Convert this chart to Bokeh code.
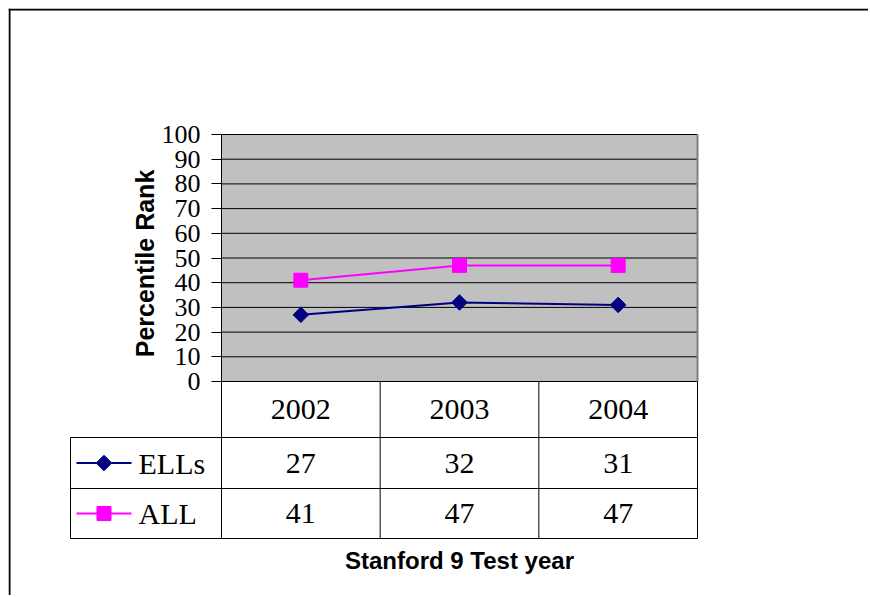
import math
from bokeh.plotting import figure
from bokeh.models import Range1d, FixedTicker, LinearAxis
from bokeh.core.properties import value
from bokeh.embed import file_html
from bokeh.resources import INLINE

# ---- data ----
years = ["2002", "2003", "2004"]
ells = [27, 32, 31]
all_students = [41, 47, 47]
series_names = ["ELLs", "ALL"]
y_ticks = [0, 10, 20, 30, 40, 50, 60, 70, 80, 90, 100]

NAVY = "#000080"
MAGENTA = "#FF00FF"
SERIF = "Liberation Serif"
SANS = "Liberation Sans"

# ---- layout constants (page pixels) ----
W, H = 860, 587
ORG_X, ORG_Y = 8, 8                      # canvas origin on the page
PLOT_L, PLOT_R = 221, 697                # plot area left/right
PLOT_T, PLOT_B = 134, 381                # plot area top/bottom (value 100 / 0)
U = (PLOT_R - PLOT_L) / len(years)       # px per category
V = (PLOT_B - PLOT_T) / 100.0            # px per value unit

def px(page_x):
    return (page_x - PLOT_L) / U

def py(page_y):
    return (PLOT_B - page_y) / V

x_range = Range1d(px(ORG_X), px(ORG_X + W))
y_range = Range1d(py(ORG_Y + H), py(ORG_Y))

p = figure(width=W, height=H, x_range=x_range, y_range=y_range,
           output_backend="svg", toolbar_location=None,
           min_border=0, min_border_left=0, min_border_right=0,
           min_border_top=0, min_border_bottom=0, y_axis_location=None, x_axis_location=None)
p.margin = (8, 0, 0, 8)
p.outline_line_color = None
p.grid.visible = False
p.background_fill_color = "white"
p.border_fill_color = "white"

ncat = len(years)
xs = [i + 0.5 for i in range(ncat)]

# outer frame (top and left edges)
p.segment(x0=[px(ORG_X + 1), px(ORG_X)], y0=[py(ORG_Y), py(ORG_Y + 1)],
          x1=[px(ORG_X + 1), px(ORG_X + W)], y1=[py(ORG_Y + H), py(ORG_Y + 1)],
          line_color="black", line_width=2)

# plot area
p.quad(left=[0], right=[ncat], bottom=[0], top=[100], fill_color="#C0C0C0", line_color=None)
p.segment(x0=[0] * len(y_ticks), y0=y_ticks, x1=[ncat] * len(y_ticks), y1=y_ticks,
          line_color="black", line_width=1)
p.segment(x0=[ncat], y0=[0], x1=[ncat], y1=[100], line_color="#808080", line_width=2)

# y axis at x = 0
ax = LinearAxis(fixed_location=0)
ax.ticker = FixedTicker(ticks=y_ticks)
ax.axis_line_color = None
ax.major_tick_out = 10
ax.major_tick_in = 0
ax.minor_tick_out = 0
ax.minor_tick_in = 0
ax.major_tick_line_color = "black"
ax.major_label_text_font = SERIF
ax.major_label_text_font_size = "26px"
ax.major_label_text_color = "black"
ax.major_label_standoff = 11
p.add_layout(ax, "left")

# y axis title
p.text(x=[px(144)], y=[py(263)], text=["Percentile Rank"], angle=math.pi / 2,
       text_font=value(SANS), text_font_style="bold", text_font_size="25px",
       text_align="center", text_baseline="middle", text_color="black")

# series
p.line(xs, ells, line_color=NAVY, line_width=2)
p.scatter(xs, ells, marker="square", angle=math.pi / 4, size=11, fill_color=NAVY, line_color=NAVY)
p.line(xs, all_students, line_color=MAGENTA, line_width=2)
p.scatter(xs, all_students, marker="square", size=14, fill_color=MAGENTA, line_color=MAGENTA)

# ---- data table ----
row_edges = [py(381), py(437), py(488), py(538)]
row_mid = [(row_edges[i] + row_edges[i + 1]) / 2 for i in range(3)]
leg_left = px(70)

p.segment(x0=list(range(ncat + 1)), y0=[0] * (ncat + 1),
          x1=list(range(ncat + 1)), y1=[row_edges[-1]] * (ncat + 1),
          line_color="black", line_width=1)
p.segment(x0=[0], y0=[100], x1=[0], y1=[0], line_color="black", line_width=1)
p.segment(x0=[leg_left], y0=[row_edges[1]], x1=[leg_left], y1=[row_edges[-1]],
          line_color="black", line_width=1)
p.segment(x0=[leg_left] * 3, y0=row_edges[1:], x1=[ncat] * 3, y1=row_edges[1:],
          line_color="black", line_width=1)

tf = value(SERIF)
p.text(x=xs, y=[row_mid[0]] * ncat, text=years, text_font=tf, text_font_size="30px",
       text_align="center", text_baseline="middle", text_color="black")
p.text(x=xs, y=[row_mid[1]] * ncat, text=[str(v) for v in ells], text_font=tf,
       text_font_size="30px", text_align="center", text_baseline="middle", text_color="black")
p.text(x=xs, y=[row_mid[2]] * ncat, text=[str(v) for v in all_students], text_font=tf,
       text_font_size="30px", text_align="center", text_baseline="middle", text_color="black")

# legend keys
lx0, lx1, lxm, ltx = px(76), px(131), px(103.5), px(138)
p.segment(x0=[lx0, lx0], y0=row_mid[1:], x1=[lx1, lx1], y1=row_mid[1:],
          line_color=[NAVY, MAGENTA], line_width=2)
p.scatter([lxm], [row_mid[1]], marker="square", angle=math.pi / 4, size=11,
          fill_color=NAVY, line_color=NAVY)
p.scatter([lxm], [row_mid[2]], marker="square", size=14, fill_color=MAGENTA, line_color=MAGENTA)
p.text(x=[ltx, ltx], y=row_mid[1:], text=series_names, text_font=tf, text_font_size="30px",
       text_align="left", text_baseline="middle", text_color="black")

# x title
p.text(x=[ncat / 2], y=[py(560)], text=["Stanford 9 Test year"], text_font=value(SANS),
       text_font_style="bold", text_font_size="24px", text_align="center",
       text_baseline="middle", text_color="black")

open("out.html", "w").write(file_html(p, INLINE))
